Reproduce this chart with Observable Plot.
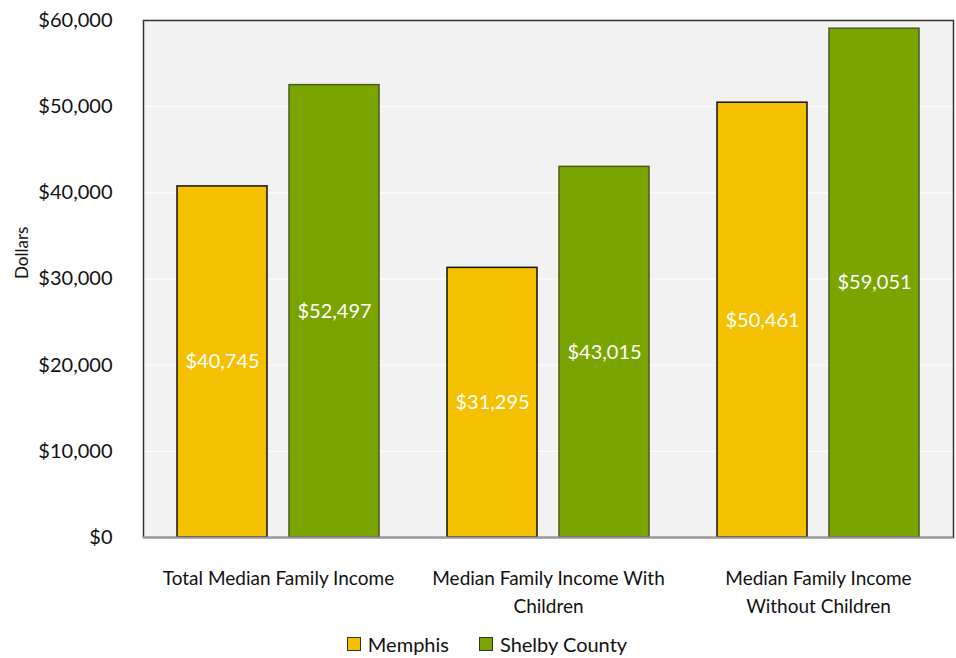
<!DOCTYPE html>
<html>
<head>
<meta charset="utf-8">
<script src="https://cdn.jsdelivr.net/npm/d3@7"></script>
<script src="https://cdn.jsdelivr.net/npm/@observablehq/plot@0.6"></script>
<style>
  body { margin: 0; background: #fff; font-family: Lato, "Open Sans", sans-serif; }
  #chart { width: 956px; }
  .legend { display: flex; justify-content: center; align-items: center; gap: 30px; font-size: 20px; color: #111; margin-left: 18px; margin-top: 10px; }
  .legend span.item { display: flex; align-items: center; }
  .legend .sw { width: 12px; height: 12px; border: 1px solid #333; margin-right: 7px; display: inline-block; }
</style>
</head>
<body>
<div id="chart"></div>
<script>
const categories = ["Total Median Family Income", "Median Family Income With Children", "Median Family Income Without Children"];
const tickLabels = ["Total Median Family Income", "Median Family Income With\nChildren", "Median Family Income\nWithout Children"];
const series = ["Memphis", "Shelby County"];
const memphis = [40745, 31295, 50461];
const shelby = [52497, 43015, 59051];
const colors = ["#f5c000", "#7aa500"];
const strokes = ["#111111", "#4b5a22"];
const yTicks = [0, 10000, 20000, 30000, 40000, 50000, 60000];

const data = [];
categories.forEach((c, i) => {
  data.push({category: c, series: series[0], value: memphis[i]});
  data.push({category: c, series: series[1], value: shelby[i]});
});

const fmt = d3.format(",");
const money = v => "$" + fmt(v);

const plot = Plot.plot({
  width: 956,
  height: 622,
  marginLeft: 143,
  marginRight: 9,
  marginTop: 20,
  marginBottom: 85,
  style: {fontFamily: "Lato, 'Open Sans', sans-serif", background: "transparent"},
  fx: {domain: categories, padding: 0, label: null, range: [143, 953]},
  x: {domain: series, axis: null, paddingInner: 0.2, paddingOuter: 0.3},
  y: {domain: [0, 60000], label: null},
  color: {domain: series, range: colors},
  marks: [
    Plot.frame({facet: "super", fill: "#f2f2f2", stroke: null}),
    Plot.gridY(yTicks, {stroke: "#ffffff", strokeOpacity: 1, strokeWidth: 1}),
    Plot.axisY(yTicks, {tickSize: 0, tickPadding: 31, tickFormat: money, fontSize: 20, fill: "#111", label: null}),
    Plot.axisFx({anchor: "bottom", tickSize: 0, tickPadding: 28, fontSize: 19, fill: "#111", lineHeight: 1.45, label: null,
      tickFormat: d => tickLabels[categories.indexOf(d)]}),
    Plot.barY(data, {fx: "category", x: "series", y: "value", fill: "series",
      stroke: d => strokes[series.indexOf(d.series)], strokeWidth: 1.5}),
    Plot.text(data, {fx: "category", x: "series", y: d => d.value / 2, text: d => money(d.value),
      fill: "white", fontSize: 20}),
    Plot.frame({facet: "super", stroke: "#333", strokeWidth: 1.5}),
    Plot.ruleY([0], {stroke: "#999", strokeWidth: 2}),
    Plot.text(["Dollars"], {frameAnchor: "left", dx: -121, rotate: -90, fontSize: 17, fill: "#111", facet: "super"})
  ]
});
document.getElementById("chart").appendChild(plot);

const legend = document.createElement("div");
legend.className = "legend";
series.forEach((s, i) => {
  const item = document.createElement("span");
  item.className = "item";
  const sw = document.createElement("span");
  sw.className = "sw";
  sw.style.background = colors[i];
  item.appendChild(sw);
  item.appendChild(document.createTextNode(s));
  legend.appendChild(item);
});
document.getElementById("chart").appendChild(legend);
</script>
</body>
</html>
